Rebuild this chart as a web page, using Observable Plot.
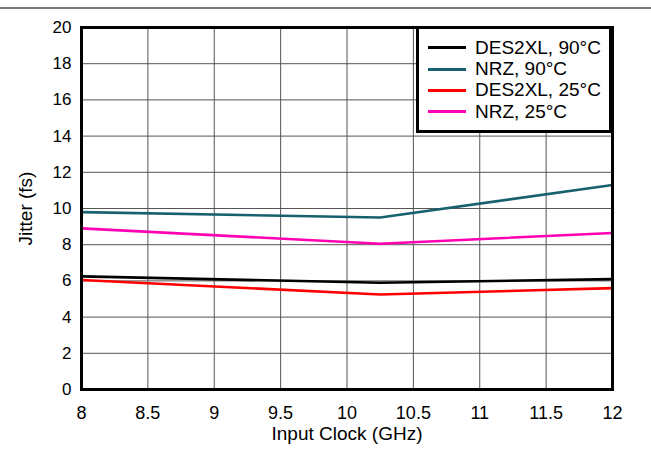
<!DOCTYPE html>
<html><head><meta charset="utf-8">
<script src="https://cdn.jsdelivr.net/npm/d3@7"></script>
<script src="https://cdn.jsdelivr.net/npm/@observablehq/plot@0.6"></script>
<style>
body{margin:0;background:#fff;font-family:"Liberation Sans",Arial,sans-serif;}
#wrap{position:relative;width:651px;height:455px;}
#rule{position:absolute;left:0;top:7px;width:651px;height:0;border-top:2px solid #7a7a7a;}
#legend{position:absolute;left:416px;top:26px;width:190px;height:101px;border:3px solid #000;background:#fff;font-size:19px;color:#000;}
.item{position:absolute;left:9px;height:20px;line-height:20px;white-space:nowrap;}
.swatch{display:inline-block;width:38px;height:0;border-top:3px solid;vertical-align:middle;margin-right:9px;position:relative;top:-1px;}
</style>
</head><body>
<div id="wrap"><div id="rule"></div></div>
<script>
const clockGHz = [8, 10.25, 12];
const seriesNames = ["DES2XL, 90°C", "NRZ, 90°C", "DES2XL, 25°C", "NRZ, 25°C"];
const seriesColors = ["#000000", "#17606f", "#ff0000", "#ff00b4"];
const des2xl90 = [6.25, 5.9, 6.1];
const nrz90 = [9.8, 9.5, 11.3];
const des2xl25 = [6.05, 5.25, 5.6];
const nrz25 = [8.9, 8.05, 8.65];
const xTicks = [8, 8.5, 9, 9.5, 10, 10.5, 11, 11.5, 12];
const yTicks = [0, 2, 4, 6, 8, 10, 12, 14, 16, 18, 20];

const seriesValues = [des2xl90, nrz90, des2xl25, nrz25];
const data = [];
seriesNames.forEach((s, i) => clockGHz.forEach((x, j) => data.push({series: s, x, y: seriesValues[i][j]})));

const chart = Plot.plot({
  width: 651, height: 455,
  marginTop: 27, marginLeft: 81, marginRight: 39, marginBottom: 66,
  style: {fontFamily: '"Liberation Sans", Arial, sans-serif', fontSize: "17px", color: "#000", background: "transparent"},
  x: {domain: [8, 12]},
  y: {domain: [0, 20]},
  color: {domain: seriesNames, range: seriesColors},
  marks: [
    Plot.gridX(xTicks, {stroke: "#555", strokeOpacity: 1, strokeWidth: 1}),
    Plot.gridY(yTicks, {stroke: "#555", strokeOpacity: 1, strokeWidth: 1}),
    Plot.line(data, {x: "x", y: "y", z: "series", stroke: "series", strokeWidth: 2.6}),
    Plot.frame({stroke: "#000", strokeWidth: 3}),
    Plot.axisX({ticks: xTicks, tickFormat: d => String(d), tickSize: 0, tickPadding: 17, fontSize: 18, label: null}),
    Plot.axisX({ticks: [], label: "Input Clock (GHz)", labelAnchor: "center", labelArrow: "none", labelOffset: 50, fontSize: 19}),
    Plot.axisY({ticks: yTicks, tickSize: 0, tickPadding: 10, fontSize: 17, label: null}),
    Plot.axisY({ticks: [], label: "Jitter (fs)", labelAnchor: "center", labelArrow: "none", labelOffset: 63, fontSize: 19})
  ]
});
const wrap = document.getElementById("wrap");
wrap.insertBefore(chart, wrap.firstChild);

const leg = document.createElement("div");
leg.id = "legend";
seriesNames.forEach((s, i) => {
  const it = document.createElement("div");
  it.className = "item";
  it.style.top = (9 + i * 21.2) + "px";
  const sw = document.createElement("span");
  sw.className = "swatch";
  sw.style.borderTopColor = seriesColors[i];
  it.appendChild(sw);
  it.appendChild(document.createTextNode(s));
  leg.appendChild(it);
});
wrap.appendChild(leg);
</script>
</body></html>
